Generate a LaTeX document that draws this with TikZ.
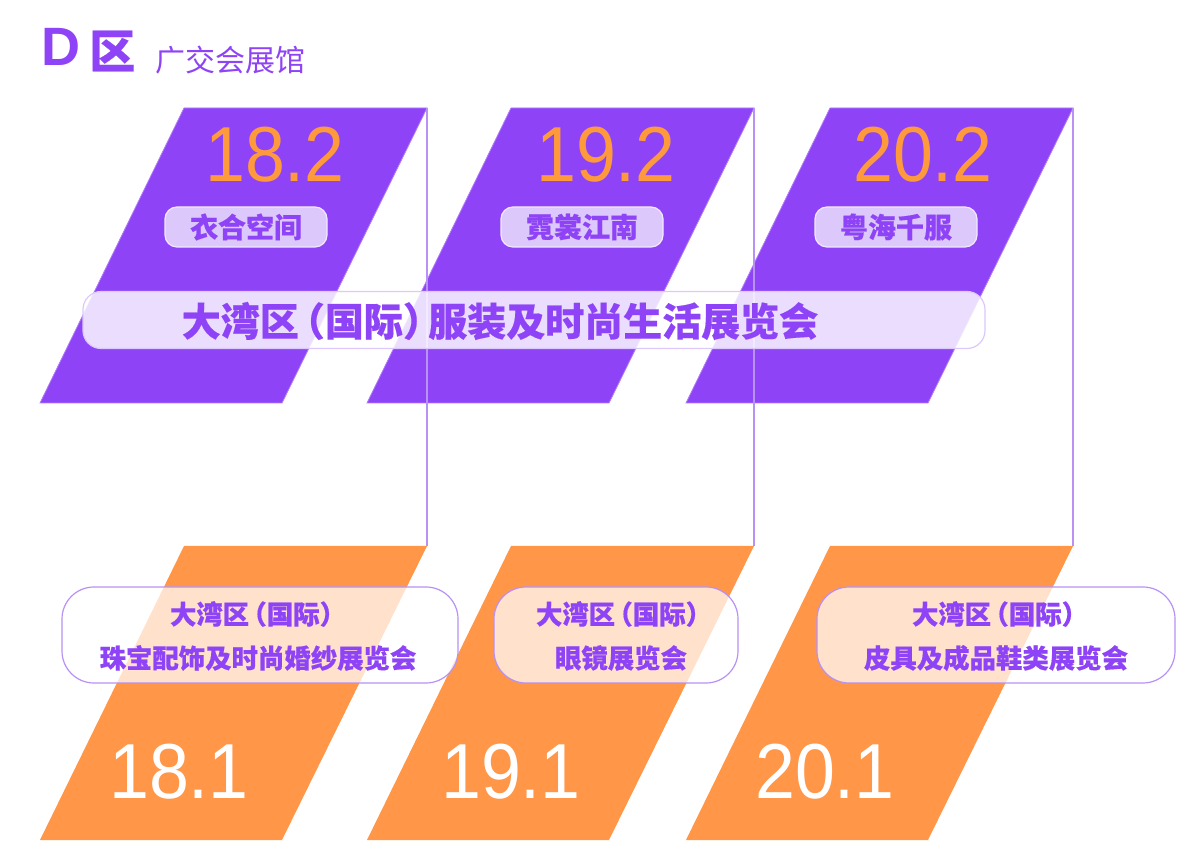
\documentclass[tikz,border=0pt]{standalone}
\usepackage{fontspec}
\setmainfont{Liberation Sans}
\newfontfamily\cjk{Noto Sans CJK SC}[BoldFeatures={FakeBold=0.4}]
\newfontfamily\numfont{Liberation Sans}[FakeStretch=0.92]
\newcommand{\lp}{\hspace{-0.33em}（}
\newcommand{\rp}{）\hspace{-0.35em}}
\definecolor{vio}{HTML}{8E44F6}
\definecolor{org}{HTML}{FF9648}
\definecolor{orgtxt}{HTML}{FF9A3C}
\definecolor{lav}{HTML}{DCC8FA}
\definecolor{linec}{HTML}{B891F5}
\begin{document}
\begin{tikzpicture}[x=0.5pt,y=-0.5pt,
  topshape/.style={fill=vio, draw=vio!70!white, line width=0.4pt},
  botshape/.style={fill=org},
  numtxt/.style={font=\numfont\fontsize{39}{39}\selectfont, inner sep=0},
  tagbox/.style={rounded corners=6pt, fill=lav, draw=white!60!lav, line width=0.6pt,
    minimum width=81pt, minimum height=20pt, inner sep=0, text=vio,
    font=\cjk\bfseries\fontsize{14}{14}\selectfont},
  bandbox/.style={rounded corners=9pt, fill=white, fill opacity=0.82, text opacity=1,
    draw=lav, line width=0.6pt, minimum width=451pt, minimum height=28.5pt, inner sep=0},
  lowbox/.style={rounded corners=16pt, fill=white, fill opacity=0.72,
    draw=linec, line width=0.6pt, minimum height=48pt, inner sep=0},
  lowtxt/.style={text=vio, inner sep=0, font=\cjk\bfseries\fontsize{13.2}{13.2}\selectfont},
  conn/.style={draw=linec, line width=0.6pt}
]
\useasboundingbox (0,0) rectangle (1200,860);

% title
\node[anchor=west, inner sep=0, text=vio, font=\bfseries\fontsize{27}{27}\selectfont] (titleD) at (41,47) {D};
\node[anchor=west, inner sep=0, text=vio, font=\cjk\bfseries\fontsize{23}{23}\selectfont] (titleQ) at (89,51) {区};
\node[anchor=west, inner sep=0, text=vio, font=\cjk\fontsize{15}{15}\selectfont] (subtitle) at (155,60) {广交会展馆};

% parallelograms
\foreach \dx/\i in {0/1,327/2,646/3}{
  \fill[botshape] (184+\dx,546) -- (427+\dx,546) -- (282+\dx,840) -- (40+\dx,840) -- cycle;
  \fill[topshape] (184+\dx,108) -- (427+\dx,108) -- (282+\dx,403) -- (40+\dx,403) -- cycle;
  \coordinate (t\i) at (427+\dx,108);
  \coordinate (b\i) at (427+\dx,546);
}
\draw[conn] (t1) -- (b1);
\draw[conn] (t2) -- (b2);
\draw[conn] (t3) -- (b3);

% top numbers
\node[numtxt, text=orgtxt] (n182) at (275,155) {18.2};
\node[numtxt, text=orgtxt] (n192) at (606,155) {19.2};
\node[numtxt, text=orgtxt] (n202) at (923,155) {20.2};

% tags
\node[tagbox] (tag1) at (246,227) {衣合空间};
\node[tagbox] (tag2) at (582,227) {霓裳江南};
\node[tagbox] (tag3) at (896,227) {粤海千服};

% band
\node[bandbox] (band) at (534,320) {};
\node[text=vio, inner sep=0, font=\cjk\bfseries\fontsize{19.5}{19.5}\selectfont] (bandtxt) at (500,321) {大湾区\lp 国际\rp 服装及时尚生活展览会};

% bottom numbers
\node[numtxt, text=white] (n181) at (179,772) {18.1};
\node[numtxt, text=white] (n191) at (511,772) {19.1};
\node[numtxt, text=white] (n201) at (825,772) {20.1};

% bottom boxes
\node[lowbox, minimum width=198pt] (box1) at (260,635) {};
\node[lowbox, minimum width=122pt] (box2) at (616,635) {};
\node[lowbox, minimum width=179pt] (box3) at (996,635) {};

\node[lowtxt] (l1a) at (258,614) {大湾区\lp 国际）};
\node[lowtxt] (l1b) at (258,658) {珠宝配饰及时尚婚纱展览会};
\node[lowtxt] (l2a) at (624,614) {大湾区\lp 国际）};
\node[lowtxt] (l2b) at (621,658) {眼镜展览会};
\node[lowtxt] (l3a) at (1000,614) {大湾区\lp 国际）};
\node[lowtxt] (l3b) at (996,658) {皮具及成品鞋类展览会};
\end{tikzpicture}
\end{document}
